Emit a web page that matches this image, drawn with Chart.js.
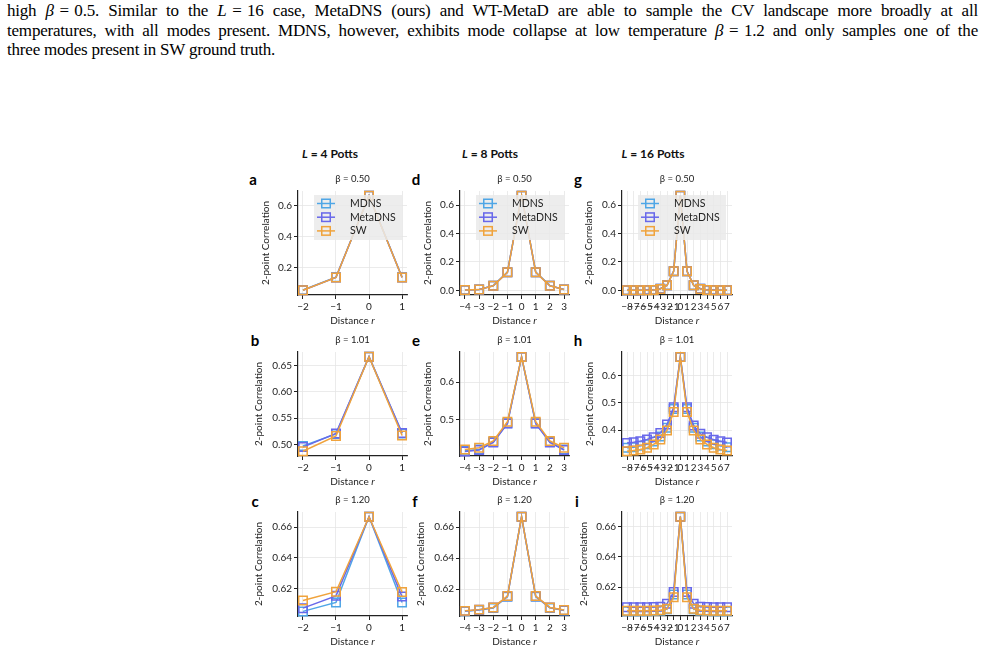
<!DOCTYPE html>
<html>
<head>
<meta charset="utf-8">
<script src="https://cdn.jsdelivr.net/npm/chart.js@4.4.1/dist/chart.umd.min.js"></script>
<style>
  html, body { margin: 0; padding: 0; background: #fff; }
  body { width: 985px; height: 668px; position: relative; overflow: hidden; }
  .para { position: absolute; left: 7px; top: 1px; width: 971px;
          font-family: 'Liberation Serif', 'Times New Roman', serif;
          font-size: 17px; letter-spacing: -0.2px; line-height: 19.6px; color: #000; }
  .para div { white-space: nowrap; }
  .para .just { text-align: justify; text-align-last: justify; }
  .m { display: inline-block; word-spacing: 1.5px; }
  .colhead { position: absolute; transform: translate(-50%, -50%); white-space: nowrap;
             font-family: Lato, sans-serif; font-weight: bold; font-size: 12px; color: #111; }
  .letter { position: absolute; transform: translate(-50%, -50%);
            font-family: Lato, sans-serif; font-weight: bold; font-size: 15px; color: #000; }
  .panel { position: absolute; }
</style>
</head>
<body>

<div class="para">
  <div class="just">high <span class="m"><i>β</i> = 0.5</span>. Similar to the <span class="m"><i>L</i> = 16</span> case, MetaDNS (ours) and WT-MetaD are able to sample the CV landscape more broadly at all</div>
  <div class="just">temperatures, with all modes present. MDNS, however, exhibits mode collapse at low temperature <span class="m"><i>β</i> = 1.2</span> and only samples one of the</div>
  <div>three modes present in SW ground truth.</div>
</div>

<div class="colhead" style="left:330px; top:152.5px;"><i>L</i> = 4 Potts</div>
<div class="colhead" style="left:490px; top:152.5px;"><i>L</i> = 8 Potts</div>
<div class="colhead" style="left:653px; top:152.5px;"><i>L</i> = 16 Potts</div>

<div class="letter" style="left:253px; top:179px;">a</div>
<div class="letter" style="left:255px; top:340px;">b</div>
<div class="letter" style="left:255px; top:501px;">c</div>
<div class="letter" style="left:416px; top:179px;">d</div>
<div class="letter" style="left:416px; top:340px;">e</div>
<div class="letter" style="left:415px; top:501px;">f</div>
<div class="letter" style="left:578px; top:179px;">g</div>
<div class="letter" style="left:578px; top:340px;">h</div>
<div class="letter" style="left:577px; top:501px;">i</div>

<script>
// ── Global defaults ──
Chart.defaults.font.family = "Lato, 'Noto Sans', sans-serif";
Chart.defaults.color = '#222';

// ── Distances r ──
const R4  = [-2, -1, 0, 1];
const R8  = [-4, -3, -2, -1, 0, 1, 2, 3];
const R16 = [-8, -7, -6, -5, -4, -3, -2, -1, 0, 1, 2, 3, 4, 5, 6, 7];

const SERIES = ['MDNS', 'MetaDNS', 'SW'];
const COLORS = ['#4fa6e6', '#6868ea', '#f0a33c'];

// ── β = 0.50 ──
const a_MDNS    = [0.056, 0.139, 0.667, 0.139];
const a_MetaDNS = [0.055, 0.138, 0.667, 0.138];
const a_SW      = [0.055, 0.137, 0.667, 0.137];

const d_MDNS    = [0.003, 0.006, 0.033, 0.128, 0.667, 0.128, 0.033, 0.006];
const d_MetaDNS = [0.003, 0.006, 0.032, 0.127, 0.667, 0.127, 0.032, 0.006];
const d_SW      = [0.002, 0.005, 0.032, 0.127, 0.667, 0.127, 0.032, 0.005];

const g_MDNS    = [0.001, 0.001, 0.001, 0.002, 0.003, 0.011, 0.036, 0.135, 0.667, 0.135, 0.036, 0.011, 0.003, 0.002, 0.001, 0.001];
const g_MetaDNS = [0.001, 0.001, 0.001, 0.002, 0.003, 0.011, 0.035, 0.135, 0.667, 0.135, 0.035, 0.011, 0.003, 0.002, 0.001, 0.001];
const g_SW      = [0.000, 0.000, 0.000, 0.001, 0.003, 0.010, 0.035, 0.134, 0.667, 0.134, 0.035, 0.010, 0.003, 0.001, 0.000, 0.000];

// ── β = 1.01 ──
const b_MDNS    = [0.497, 0.520, 0.667, 0.521];
const b_MetaDNS = [0.495, 0.521, 0.667, 0.522];
const b_SW      = [0.487, 0.516, 0.667, 0.517];

const e_MDNS    = [0.418, 0.421, 0.441, 0.491, 0.667, 0.491, 0.441, 0.421];
const e_MetaDNS = [0.416, 0.420, 0.440, 0.490, 0.667, 0.490, 0.440, 0.420];
const e_SW      = [0.421, 0.426, 0.444, 0.495, 0.667, 0.495, 0.444, 0.426];

const h_MDNS    = [0.336, 0.338, 0.343, 0.349, 0.359, 0.377, 0.409, 0.477, 0.667, 0.477, 0.409, 0.377, 0.359, 0.349, 0.343, 0.338];
const h_MetaDNS = [0.353, 0.356, 0.360, 0.366, 0.374, 0.390, 0.421, 0.484, 0.667, 0.484, 0.417, 0.387, 0.374, 0.365, 0.360, 0.355];
const h_SW      = [0.323, 0.326, 0.330, 0.336, 0.348, 0.366, 0.399, 0.466, 0.667, 0.466, 0.399, 0.366, 0.348, 0.336, 0.330, 0.326];

// ── β = 1.20 ──
const c_MDNS    = [0.6052, 0.6110, 0.6667, 0.6110];
const c_MetaDNS = [0.6073, 0.6153, 0.6667, 0.6148];
const c_SW      = [0.6123, 0.6180, 0.6667, 0.6178];

const f_MDNS    = [0.6058, 0.6066, 0.6080, 0.6152, 0.6667, 0.6152, 0.6080, 0.6063];
const f_MetaDNS = [0.6060, 0.6068, 0.6082, 0.6155, 0.6667, 0.6155, 0.6082, 0.6065];
const f_SW      = [0.6061, 0.6069, 0.6083, 0.6156, 0.6667, 0.6156, 0.6083, 0.6066];

const i_MDNS    = [0.6040, 0.6040, 0.6040, 0.6040, 0.6041, 0.6043, 0.6053, 0.6150, 0.6667, 0.6150, 0.6053, 0.6043, 0.6041, 0.6040, 0.6040, 0.6040];
const i_MetaDNS = [0.6066, 0.6066, 0.6066, 0.6066, 0.6067, 0.6070, 0.6090, 0.6167, 0.6667, 0.6167, 0.6090, 0.6070, 0.6067, 0.6066, 0.6066, 0.6066];
const i_SW      = [0.6043, 0.6043, 0.6043, 0.6043, 0.6044, 0.6046, 0.6056, 0.6133, 0.6667, 0.6133, 0.6056, 0.6046, 0.6044, 0.6043, 0.6043, 0.6043];

// ── Y tick labels ──
const YT_ROW1_A = [0.2, 0.4, 0.6];
const YT_ROW1   = [0.0, 0.2, 0.4, 0.6];
const YT_B      = [0.50, 0.55, 0.60, 0.65];
const YT_E      = [0.5, 0.6];
const YT_H      = [0.4, 0.5, 0.6];
const YT_ROW3   = [0.62, 0.64, 0.66];

// ── Panel layout ──
const COL_LEFT = [298, 460, 622];
const COL_W    = [109, 109, 110];
const ROW_TOP  = [191, 352, 512];
const PLOT_H   = 104;
const Y_W = 50, TITLE_H = 18, X_H = 34, PAD_R = 10;

const panels = [
  { col: 0, row: 0, r: R4,  x: [-2.15, 1.15], y: [0.024, 0.697],   yt: YT_ROW1_A, dec: 1, beta: '0.50', gap: 32, legend: true, v: [a_MDNS, a_MetaDNS, a_SW] },
  { col: 1, row: 0, r: R8,  x: [-4.35, 3.35], y: [-0.033, 0.700],  yt: YT_ROW1,   dec: 1, beta: '0.50', gap: 32, legend: true, v: [d_MDNS, d_MetaDNS, d_SW] },
  { col: 2, row: 0, r: R16, x: [-8.75, 7.75], y: [-0.033, 0.700],  yt: YT_ROW1,   dec: 1, beta: '0.50', gap: 33, legend: true, v: [g_MDNS, g_MetaDNS, g_SW] },
  { col: 0, row: 1, r: R4,  x: [-2.15, 1.15], y: [0.478, 0.676],   yt: YT_B,      dec: 2, beta: '1.01', gap: 39, v: [b_MDNS, b_MetaDNS, b_SW] },
  { col: 1, row: 1, r: R8,  x: [-4.35, 3.35], y: [0.404, 0.680],   yt: YT_E,      dec: 1, beta: '1.01', gap: 32, v: [e_MDNS, e_MetaDNS, e_SW] },
  { col: 2, row: 1, r: R16, x: [-8.75, 7.75], y: [0.306, 0.685],   yt: YT_H,      dec: 1, beta: '1.01', gap: 32, v: [h_MDNS, h_MetaDNS, h_SW] },
  { col: 0, row: 2, r: R4,  x: [-2.15, 1.15], y: [0.6022, 0.6698], yt: YT_ROW3,   dec: 2, beta: '1.20', gap: 39, v: [c_MDNS, c_MetaDNS, c_SW] },
  { col: 1, row: 2, r: R8,  x: [-4.35, 3.35], y: [0.6028, 0.6697], yt: YT_ROW3,   dec: 2, beta: '1.20', gap: 39, v: [f_MDNS, f_MetaDNS, f_SW] },
  { col: 2, row: 2, r: R16, x: [-8.75, 7.75], y: [0.6008, 0.6698], yt: YT_ROW3,   dec: 2, beta: '1.20', gap: 38, v: [i_MDNS, i_MetaDNS, i_SW] }
];

const fmtX = v => (v < 0 ? '\u2212' + Math.abs(v) : String(v));

// "Distance r" with italic r under the plot
const xTitle = {
  id: 'xTitle',
  afterDraw(chart) {
    const { ctx, chartArea } = chart;
    const cx = (chartArea.left + chartArea.right) / 2;
    const cy = chartArea.bottom + 26;
    ctx.save();
    ctx.fillStyle = '#222';
    ctx.textBaseline = 'middle';
    ctx.textAlign = 'left';
    ctx.font = "10px Lato";
    const w1 = ctx.measureText('Distance ').width;
    ctx.font = "italic 10px Lato";
    const w2 = ctx.measureText('r').width;
    const x0 = cx - (w1 + w2) / 2;
    ctx.font = "10px Lato";
    ctx.fillText('Distance ', x0, cy);
    ctx.font = "italic 10px Lato";
    ctx.fillText('r', x0 + w1, cy);
    ctx.restore();
  }
};

// grey matplotlib-style legend box inside the axes
const boxLegend = {
  id: 'boxLegend',
  afterDatasetsDraw(chart, args, opts) {
    if (!opts.show) return;
    const { ctx, chartArea } = chart;
    const x = chartArea.left + 16, y = chartArea.top + 4;
    ctx.save();
    ctx.fillStyle = 'rgba(234,234,234,0.85)';
    ctx.fillRect(x, y, 88, 45);
    chart.data.datasets.forEach((ds, k) => {
      const cy = y + 8.5 + k * 13.7;
      ctx.strokeStyle = ds.borderColor;
      ctx.lineWidth = 1.5;
      ctx.beginPath();
      ctx.moveTo(x + 3, cy);
      ctx.lineTo(x + 21, cy);
      ctx.stroke();
      ctx.strokeRect(x + 12 - 4.25, cy - 4.25, 8.5, 8.5);
      ctx.fillStyle = '#222';
      ctx.font = "10.5px Lato";
      ctx.textBaseline = 'middle';
      ctx.fillText(ds.label, x + 36, cy);
    });
    ctx.restore();
  }
};

function makePanel(p) {
  const plotLeft = COL_LEFT[p.col], plotW = COL_W[p.col], plotTop = ROW_TOP[p.row];
  const W = Y_W + plotW + PAD_R, H = TITLE_H + PLOT_H + X_H;

  const div = document.createElement('div');
  div.className = 'panel';
  div.style.left = (plotLeft - Y_W) + 'px';
  div.style.top = (plotTop - TITLE_H) + 'px';
  const cv = document.createElement('canvas');
  cv.width = W;
  cv.height = H;
  cv.style.width = W + 'px';
  cv.style.height = H + 'px';
  div.appendChild(cv);
  document.body.appendChild(div);

  const grid = { color: '#e6e6e6', lineWidth: 0.8, tickColor: '#222', tickLength: 4, tickWidth: 1 };
  const border = { color: '#222', width: 1.2 };

  return new Chart(cv, {
    type: 'line',
    data: {
      datasets: SERIES.map((name, k) => ({
        label: name,
        data: p.r.map((r, j) => ({ x: r, y: p.v[k][j] })),
        borderColor: COLORS[k],
        borderWidth: 1.5,
        pointStyle: 'rect',
        pointRadius: 6,
        pointHoverRadius: 6,
        pointBorderWidth: 1.5,
        pointBorderColor: COLORS[k],
        pointBackgroundColor: 'rgba(0,0,0,0)',
        tension: 0,
        clip: false,
        order: SERIES.length - k
      }))
    },
    options: {
      responsive: false,
      animation: false,
      events: [],
      devicePixelRatio: 1,
      layout: { padding: { left: 0, right: PAD_R, top: 0, bottom: 0 } },
      plugins: {
        legend: { display: false },
        tooltip: { enabled: false },
        title: {
          display: true,
          fullSize: false,
          text: 'β = ' + p.beta,
          color: '#222',
          font: { size: 9.5, weight: 'normal', lineHeight: 12 / 9.5 },
          padding: { top: 0, bottom: 6 }
        },
        boxLegend: { show: !!p.legend }
      },
      scales: {
        x: {
          type: 'linear',
          min: p.x[0],
          max: p.x[1],
          afterBuildTicks: s => { s.ticks = p.r.map(v => ({ value: v })); },
          afterFit: s => { s.height = X_H; },
          ticks: { autoSkip: false, maxRotation: 0, minRotation: 0, padding: 2,
                   font: { size: 10 }, color: '#222', callback: v => fmtX(v) },
          grid,
          border
        },
        y: {
          type: 'linear',
          min: p.y[0],
          max: p.y[1],
          afterBuildTicks: s => { s.ticks = p.yt.map(v => ({ value: v })); },
          afterFit: s => { s.width = Y_W; },
          ticks: { padding: 2, font: { size: 10 }, color: '#222', callback: v => v.toFixed(p.dec) },
          title: {
            display: true,
            text: '2-point Correlation',
            color: '#222',
            font: { size: 10, lineHeight: 1.2 },
            padding: { top: Y_W - 6 - p.gap, bottom: 0 }
          },
          grid,
          border
        }
      }
    },
    plugins: [xTitle, boxLegend]
  });
}

panels.forEach(makePanel);
</script>
</body>
</html>
